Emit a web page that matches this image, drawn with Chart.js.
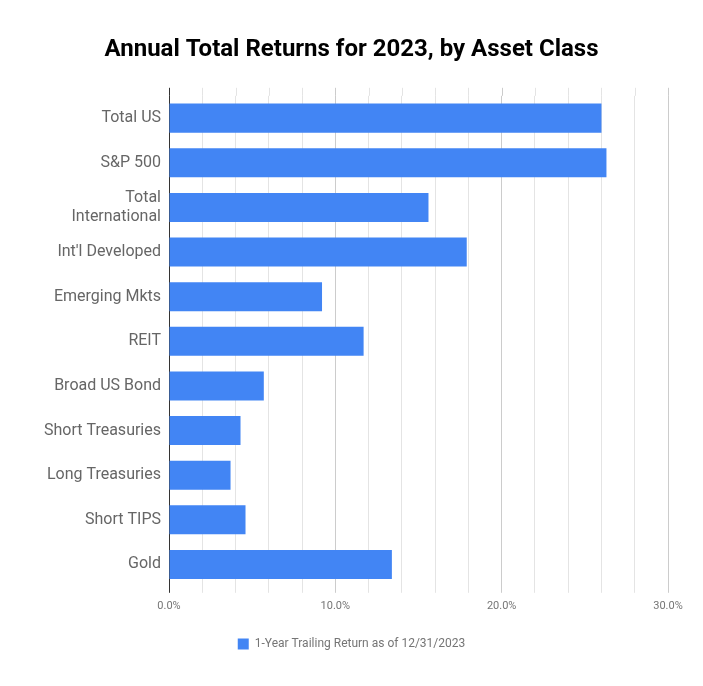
<!DOCTYPE html>
<html>
<head>
<meta charset="utf-8">
<script src="https://cdn.jsdelivr.net/npm/chart.js@4/dist/chart.umd.min.js"></script>
<style>
  html, body { margin: 0; padding: 0; background: #fff; }
  #wrap { width: 703px; height: 686px; }
</style>
</head>
<body>
<div id="wrap"><canvas id="c" width="703" height="686"></canvas></div>
<script>
const categories = [
  'Total US', 'S&P 500', ['Total', 'International'], "Int'l Developed", 'Emerging Mkts',
  'REIT', 'Broad US Bond', 'Short Treasuries', 'Long Treasuries', 'Short TIPS', 'Gold'
];
const returns2023 = [26.0, 26.3, 15.6, 17.9, 9.2, 11.7, 5.7, 4.3, 3.7, 4.6, 13.4];
const seriesName = '1-Year Trailing Return as of 12/31/2023';
const chartTitle = 'Annual Total Returns for 2023, by Asset Class';
const xMin = 0, xMax = 30, xStep = 2, xLabelEvery = 10;

const FONT = 'Roboto, "Noto Sans", Arial, sans-serif';

function gridColor(v) {
  if (v === 0) return '#333333';
  if (v % xLabelEvery === 0) return '#cccccc';
  return '#e4e4e4';
}

const extendGrid = {
  id: 'extendGrid',
  beforeDatasetsDraw(chart) {
    const ctx = chart.ctx, xs = chart.scales.x, top = chart.chartArea.top;
    ctx.save();
    ctx.lineWidth = 1;
    for (let v = xMin; v <= xMax; v += xStep) {
      const px = Math.round(xs.getPixelForValue(v)) + 0.5;
      ctx.strokeStyle = gridColor(v);
      ctx.beginPath();
      ctx.moveTo(px, top - 8);
      ctx.lineTo(px, top);
      ctx.stroke();
    }
    ctx.restore();
  }
};

new Chart(document.getElementById('c'), {
  type: 'bar',
  data: {
    labels: categories,
    datasets: [{
      label: seriesName,
      data: returns2023,
      backgroundColor: '#4285F4',
      borderWidth: 0,
      barPercentage: 0.65,
      categoryPercentage: 1.0
    }]
  },
  options: {
    indexAxis: 'y',
    responsive: false,
    animation: false,
    devicePixelRatio: 1,
    layout: { padding: { left: 0, right: 0, top: 0, bottom: 26 } },
    plugins: {
      title: {
        display: true,
        text: chartTitle,
        color: '#000000',
        font: { family: FONT, size: 24, weight: 'bold' },
        padding: { top: 36, bottom: 31 }
      },
      legend: {
        display: true,
        position: 'bottom',
        labels: {
          color: '#757575',
          font: { family: FONT, size: 12 },
          boxWidth: 11,
          boxHeight: 11,
          padding: 10
        }
      },
      tooltip: { enabled: false }
    },
    scales: {
      x: {
        type: 'linear',
        min: xMin,
        max: xMax,
        ticks: {
          stepSize: xStep,
          autoSkip: false,
          maxRotation: 0,
          color: '#757575',
          font: { family: FONT, size: 11 },
          padding: 7,
          callback: (v) => (v % xLabelEvery === 0 ? v.toFixed(1) + '%' : '')
        },
        grid: {
          color: (c) => gridColor(c.tick ? c.tick.value : 1),
          drawTicks: true,
          tickLength: 6
        },
        border: { display: false },
        afterFit: (s) => { s.height += 8; }
      },
      y: {
        ticks: {
          color: '#666666',
          font: { family: FONT, size: 16 },
          padding: 8
        },
        grid: { display: false, drawTicks: false },
        border: { display: false },
        afterFit: (s) => { s.width = 169; }
      },
      yRight: {
        type: 'category',
        position: 'right',
        display: true,
        ticks: { display: false },
        grid: { display: false, drawTicks: false },
        border: { display: false },
        afterFit: (s) => { s.width = 35; }
      }
    }
  },
  plugins: [extendGrid]
});
</script>
</body>
</html>
